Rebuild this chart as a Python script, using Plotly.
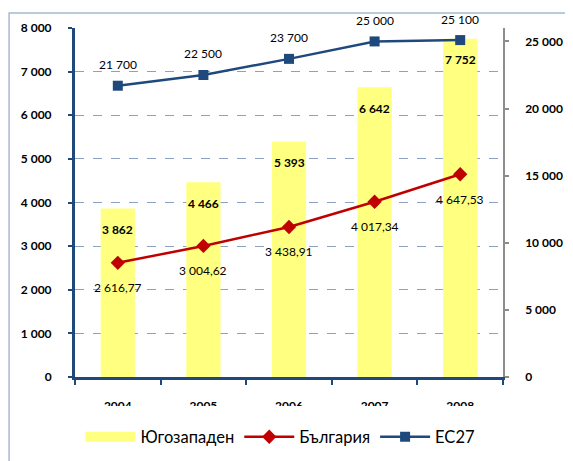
import plotly.graph_objects as go

years = ["2004", "2005", "2006", "2007", "2008"]
yugozapaden = [3862, 4466, 5393, 6642, 7752]
bulgaria = [2616.77, 3004.62, 3438.91, 4017.34, 4647.53]
eu27 = [21700, 22500, 23700, 25000, 25100]

left_ticks = [0, 1000, 2000, 3000, 4000, 5000, 6000, 7000, 8000]
right_ticks = [0, 5000, 10000, 15000, 20000, 25000]


def fmt(v, dec=0):
    s = f"{v:,.{dec}f}"
    return s.replace(",", " ").replace(".", ",")


FONT = "Lato, 'Open Sans', Arial, sans-serif"
BLUE = "#1F497D"
RED = "#C00000"
YELLOW = "#FFFF80"

fig = go.Figure()
fig.add_trace(go.Bar(x=years, y=yugozapaden, name="Югозападен", showlegend=False,
                     marker=dict(color=YELLOW, line=dict(width=0)), width=0.4,
                     yaxis="y"))
# legend entry drawn as a wide yellow swatch, like the reference
fig.add_trace(go.Scatter(x=[None], y=[None], name="Югозападен", mode="lines",
                         line=dict(color=YELLOW, width=11), yaxis="y"))
fig.add_trace(go.Scatter(x=years, y=bulgaria, name="България", mode="lines+markers",
                         line=dict(color=RED, width=2.5),
                         marker=dict(symbol="diamond", size=11, color=RED),
                         yaxis="y"))
fig.add_trace(go.Scatter(x=years, y=eu27, name="ЕС27", mode="lines+markers",
                         line=dict(color=BLUE, width=2.5),
                         marker=dict(symbol="square", size=10, color=BLUE),
                         yaxis="y2"))

ann = []
for i, v in enumerate(yugozapaden):
    ann.append(dict(x=i, y=v, xref="x", yref="y", text=f"<b>{fmt(v)}</b>", showarrow=False,
                    yshift=-21, font=dict(size=12, color="black", family=FONT)))
for i, v in enumerate(bulgaria):
    ann.append(dict(x=i, y=v, xref="x", yref="y", text=fmt(v, 2), showarrow=False,
                    yshift=-25, font=dict(size=12, color="black", family=FONT)))
for i, v in enumerate(eu27):
    ann.append(dict(x=i, y=v, xref="x", yref="y2", text=fmt(v), showarrow=False,
                    yshift=21, font=dict(size=12, color="black", family=FONT)))

shapes = [
    # outer chart frame
    dict(type="rect", xref="paper", yref="paper", x0=-0.154, x1=1.2, y0=-0.3, y1=1.043,
         line=dict(color="#A6B9D3", width=1.5), fillcolor="rgba(0,0,0,0)", layer="below"),
    # mask the lower part of the category labels (clipped in reference)
    dict(type="rect", xref="paper", yref="paper", x0=-0.05, x1=1.05, y0=-0.125, y1=-0.0831,
         line=dict(width=0), fillcolor="white", layer="above"),
]

# the page body adds an 8 px offset, so margins are set to land the plot area
# where the reference has it (x 75..503, y 28..377 in the window)
fig.update_layout(
    width=573, height=461,
    margin=dict(l=67, r=78, t=20, b=92, autoexpand=False),
    paper_bgcolor="white", plot_bgcolor="white",
    font=dict(family=FONT, color="black"),
    showlegend=True,
    legend=dict(orientation="h", x=0.48, xanchor="center", y=-0.172, yanchor="middle",
                font=dict(size=16.5, family=FONT), itemwidth=50, traceorder="normal"),
    annotations=ann,
    shapes=shapes,
    xaxis=dict(type="category", range=[-0.5, 4.5], autorange=False, automargin=False,
               showline=True, linecolor=BLUE, linewidth=3,
               ticks="outside", tickson="boundaries", ticklen=5, tickwidth=2, tickcolor=BLUE,
               tickfont=dict(size=12, family=FONT, weight="bold"), ticklabelstandoff=16,
               tickangle=0, showgrid=False, zeroline=False),
    yaxis=dict(range=[0, 8000], tickvals=left_ticks, ticktext=[fmt(v) for v in left_ticks],
               automargin=False,
               showline=True, linecolor=BLUE, linewidth=3, ticks="outside", ticklen=4,
               tickwidth=2, tickcolor=BLUE,
               tickfont=dict(size=12, family=FONT, weight="bold"), ticklabelstandoff=14,
               showgrid=True, gridcolor="#8DA2C0", griddash="dash", gridwidth=1,
               zeroline=False),
    yaxis2=dict(range=[0, 26000], tickvals=right_ticks, ticktext=[fmt(v) for v in right_ticks],
                automargin=False,
                overlaying="y", side="right", showline=True, linecolor="#8C8C8C", linewidth=1.5,
                ticks="outside", ticklen=4, tickwidth=1.5, tickcolor="#8C8C8C",
                tickfont=dict(size=12, family=FONT, weight="bold"), ticklabelstandoff=14,
                showgrid=False, zeroline=False),
)

fig.write_html("out.html")
